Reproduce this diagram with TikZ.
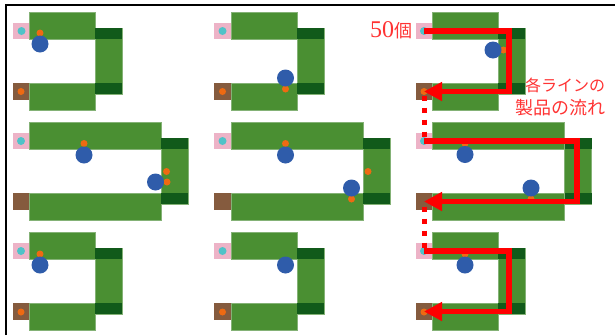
\documentclass[tikz,border=0pt]{standalone}
\usepackage{fontspec}
\usepackage{xcolor}
\setmainfont{Liberation Serif}
\newfontfamily\cjk{Noto Sans CJK JP}
\usetikzlibrary{arrows.meta}
\definecolor{linegreen}{HTML}{4A8F32}
\definecolor{edgegreen}{HTML}{84B276}
\definecolor{capgreen}{HTML}{115A1A}
\definecolor{inpink}{HTML}{EDB3C7}
\definecolor{outbrown}{HTML}{855B3E}
\definecolor{workblue}{HTML}{2F5CAA}
\definecolor{partorange}{HTML}{EE6A12}
\definecolor{partcyan}{HTML}{4FC3C8}
\definecolor{flowred}{HTML}{FF0000}

\begin{document}
\begin{tikzpicture}[
    x=1pt, y=-1pt,
    every node/.style={inner sep=0pt, outer sep=0pt},
    bar/.style={
        draw=edgegreen,
        line width=0.5pt,
        fill=linegreen,
        minimum width=66pt,
        minimum height=27pt
    },
    longbar/.style={bar, minimum width=132pt},
    sidebar/.style={bar, minimum width=27pt, minimum height=66pt},
    endcap/.style={fill=capgreen, minimum width=27pt, minimum height=11pt},
    inbox/.style={fill=inpink, minimum size=16.5pt},
    outbox/.style={fill=outbrown, minimum size=16.5pt},
    work/.style={circle, fill=workblue, minimum size=17pt},
    part/.style={circle, fill=partorange, minimum size=7pt},
    stock/.style={circle, fill=partcyan, minimum size=8pt},
    flow/.style={draw=flowred, line width=5.5pt, -{Triangle[length=18pt,width=18pt]}},
    link/.style={draw=flowred, line width=5pt, dash pattern=on 5pt off 7pt},
    note/.style={text=flowred!80, align=right, font=\cjk\fontsize{18}{23}\selectfont}
]
\useasboundingbox (0,0) rectangle (615,335);

\draw[line width=2pt] (6,335) -- (6,4.5) -- (615,4.5);

\node[inbox] (in1a) at (21.5,31) {};
\node[outbox] (out1a) at (21.5,91.5) {};
\node[bar] (top1a) at (62,25.5) {};
\node[bar] (bot1a) at (62,96.5) {};
\node[sidebar] (side1a) at (108.5,61) {};
\node[endcap] (capu1a) at (108.5,33.5) {};
\node[endcap] (capd1a) at (108.5,88.5) {};
\node[stock] (stock1a) at (21.5,31) {};
\node[part] (done1a) at (21,91.5) {};
\node[part] (part1a) at (40,33) {};
\node[work] (work1a) at (40,44) {};

\node[inbox] (in1b) at (222.5,31) {};
\node[outbox] (out1b) at (222.5,91.5) {};
\node[bar] (top1b) at (264,25.5) {};
\node[bar] (bot1b) at (264,96.5) {};
\node[sidebar] (side1b) at (310.5,61) {};
\node[endcap] (capu1b) at (310.5,33.5) {};
\node[endcap] (capd1b) at (310.5,88.5) {};
\node[stock] (stock1b) at (222.5,31) {};
\node[part] (done1b) at (222.5,91.5) {};
\node[part] (part1b) at (285.5,89) {};
\node[work] (work1b) at (285.5,78) {};

\node[inbox] (in1c) at (424,31) {};
\node[outbox] (out1c) at (424,91.5) {};
\node[bar] (top1c) at (465,25.5) {};
\node[bar] (bot1c) at (465,96.5) {};
\node[sidebar] (side1c) at (511.5,61) {};
\node[endcap] (capu1c) at (511.5,33.5) {};
\node[endcap] (capd1c) at (511.5,88.5) {};
\node[stock] (stock1c) at (424,31) {};
\node[part] (done1c) at (424,91.5) {};
\node[part] (part1c) at (503.5,50) {};
\node[work] (work1c) at (493,50) {};

\node[inbox] (in2a) at (21.5,141) {};
\node[outbox] (out2a) at (21.5,201.5) {};
\node[longbar] (top2a) at (95,135.5) {};
\node[longbar] (bot2a) at (95,206.5) {};
\node[sidebar] (side2a) at (174.5,171) {};
\node[endcap] (capu2a) at (174.5,143.5) {};
\node[endcap] (capd2a) at (174.5,198.5) {};
\node[stock] (stock2a) at (21,141) {};
\node[part] (part2a) at (84,143.5) {};
\node[work] (work2a) at (84,155) {};
\node[part] (wait2a) at (166.5,171.5) {};
\node[part] (next2a) at (167,182) {};
\node[work] (press2a) at (155.5,182) {};

\node[inbox] (in2b) at (222.5,141) {};
\node[outbox] (out2b) at (222.5,201.5) {};
\node[longbar] (top2b) at (297,135.5) {};
\node[longbar] (bot2b) at (297,206.5) {};
\node[sidebar] (side2b) at (376.5,171) {};
\node[endcap] (capu2b) at (376.5,143.5) {};
\node[endcap] (capd2b) at (376.5,198.5) {};
\node[stock] (stock2b) at (222.5,141) {};
\node[part] (part2b) at (285.5,143.5) {};
\node[work] (work2b) at (285.5,155) {};
\node[part] (wait2b) at (368,171.5) {};
\node[part] (next2b) at (351.5,199) {};
\node[work] (press2b) at (351.5,188) {};

\node[inbox] (in2c) at (424,141) {};
\node[outbox] (out2c) at (424,201.5) {};
\node[longbar] (top2c) at (498,135.5) {};
\node[longbar] (bot2c) at (498,206.5) {};
\node[sidebar] (side2c) at (578,171) {};
\node[endcap] (capu2c) at (578,143.5) {};
\node[endcap] (capd2c) at (578,198.5) {};
\node[stock] (stock2c) at (424,141) {};
\node[part] (part2c) at (465,143.5) {};
\node[work] (work2c) at (465,154.5) {};
\node[part] (next2c) at (531,199) {};
\node[work] (press2c) at (531,188) {};

\node[inbox] (in3a) at (21.5,251) {};
\node[outbox] (out3a) at (21.5,311.5) {};
\node[bar] (top3a) at (62,245.5) {};
\node[bar] (bot3a) at (62,316.5) {};
\node[sidebar] (side3a) at (108.5,281) {};
\node[endcap] (capu3a) at (108.5,253.5) {};
\node[endcap] (capd3a) at (108.5,308.5) {};
\node[stock] (stock3a) at (21,251) {};
\node[part] (done3a) at (21,312) {};
\node[part] (part3a) at (40,254) {};
\node[work] (work3a) at (40,265) {};

\node[inbox] (in3b) at (222.5,251) {};
\node[outbox] (out3b) at (222.5,311.5) {};
\node[bar] (top3b) at (264,245.5) {};
\node[bar] (bot3b) at (264,316.5) {};
\node[sidebar] (side3b) at (310.5,281) {};
\node[endcap] (capu3b) at (310.5,253.5) {};
\node[endcap] (capd3b) at (310.5,308.5) {};
\node[stock] (stock3b) at (222.5,251) {};
\node[part] (done3b) at (222.5,312) {};
\node[work] (work3b) at (285.5,265) {};

\node[inbox] (in3c) at (424,251) {};
\node[outbox] (out3c) at (424,311.5) {};
\node[bar] (top3c) at (465,245.5) {};
\node[bar] (bot3c) at (465,316.5) {};
\node[sidebar] (side3c) at (511.5,281) {};
\node[endcap] (capu3c) at (511.5,253.5) {};
\node[endcap] (capd3c) at (511.5,308.5) {};
\node[stock] (stock3c) at (424,251) {};
\node[part] (done3c) at (424,312) {};
\node[part] (part3c) at (465,254) {};
\node[work] (work3c) at (465,265) {};

\coordinate (bend1) at (509,61);
\coordinate (bend2) at (577,171);
\coordinate (bend3) at (509,281);

\draw[link, dash phase=8pt] (out1c.center) -- (in2c.center);
\draw[link, dash phase=7pt] (out2c.center) -- (in3c.center);
\draw[flow] (in1c.center) -| (bend1) |- (out1c.center);
\draw[flow] (in2c.center) -| (bend2) |- (out2c.center);
\draw[flow] (in3c.center) -| (bend3) |- (out3c.center);

\node[note, anchor=east] (count) at (412,30) {\fontspec{Liberation Serif}\fontsize{24}{24}\selectfont 50\cjk\fontsize{18}{18}\selectfont 個};
\node[note, anchor=east] (caption) at (605,96.5) {\fontsize{16}{23}\selectfont 各ラインの\\製品の流れ};
\end{tikzpicture}
\end{document}
